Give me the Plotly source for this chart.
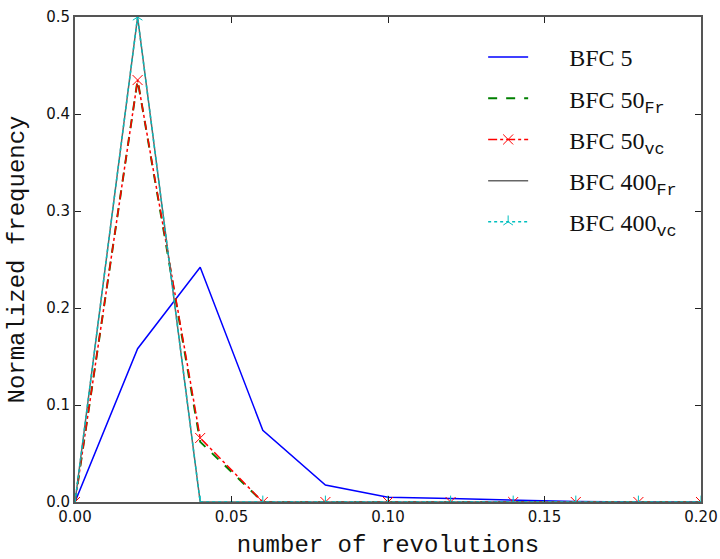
import plotly.graph_objects as go

bins = [0.00, 0.02, 0.04, 0.06, 0.08, 0.10, 0.12, 0.14, 0.16, 0.18, 0.20]
bfc5 = [0.0, 0.158, 0.242, 0.074, 0.0175, 0.005, 0.0035, 0.002, 0.0005, 0.0, 0.0]
bfc50_fr = [0.0, 0.435, 0.062, 0.0, 0.0, 0.0, 0.0, 0.0, 0.0, 0.0, 0.0]
bfc50_vc = [0.0, 0.435, 0.066, 0.0, 0.0, 0.0, 0.0, 0.0, 0.0, 0.0, 0.0]
bfc400_fr = [0.0, 0.5, 0.0, 0.0, 0.0, 0.0, 0.0, 0.0, 0.0, 0.0, 0.0]
bfc400_vc = [0.0, 0.5, 0.0, 0.0, 0.0, 0.0, 0.0, 0.0, 0.0, 0.0, 0.0]

MONO = "Liberation Mono, Courier New, monospace"
pad = "&nbsp;" * 6
names = [pad + "BFC 5",
         pad + "BFC 50<sub><span style='font-family:" + MONO + "'>Fr</span></sub>",
         pad + "BFC 50<sub><span style='font-family:" + MONO + "'>vc</span></sub>",
         pad + "BFC 400<sub><span style='font-family:" + MONO + "'>Fr</span></sub>",
         pad + "BFC 400<sub><span style='font-family:" + MONO + "'>vc</span></sub>"]

fig = go.Figure()
fig.add_trace(go.Scatter(x=bins, y=bfc5, mode="lines", name=names[0],
                         line=dict(color="#0000FF", width=1.5), legendgroup="a"))
fig.add_trace(go.Scatter(x=bins, y=bfc50_fr, mode="lines", name=names[1],
                         line=dict(color="#008000", width=2, dash="dash"), legendgroup="b"))
fig.add_trace(go.Scatter(x=bins, y=bfc50_vc, mode="lines+markers", name=names[2],
                         line=dict(color="#FF0000", width=1.5, dash="dashdot"),
                         marker=dict(symbol="x-thin", size=10, line=dict(color="#FF0000", width=1)),
                         legendgroup="c"))
fig.add_trace(go.Scatter(x=bins, y=bfc400_fr, mode="lines", name=names[3],
                         line=dict(color="#666666", width=1.5), legendgroup="d"))
fig.add_trace(go.Scatter(x=bins, y=bfc400_vc, mode="lines+markers", name=names[4],
                         line=dict(color="#00BFBF", width=1.5, dash="dot"),
                         marker=dict(symbol="y-up", size=8, line=dict(color="#00BFBF", width=1)),
                         legendgroup="e"))

axis_common = dict(showline=True, mirror="allticks", linecolor="#555555", linewidth=2,
                   ticks="inside", ticklen=6, tickcolor="#222222", tickwidth=1,
                   showgrid=False, zeroline=False, automargin=False,
                   tickfont=dict(family="DejaVu Sans", size=15, color="#111111"))

fig.update_xaxes(range=[0, 0.2], tickvals=[0, 0.05, 0.10, 0.15, 0.20],
                 ticktext=["0.00", "0.05", "0.10", "0.15", "0.20"],
                 title=dict(text="number of revolutions",
                            font=dict(family=MONO, size=24, color="#111111")),
                 **axis_common)
fig.update_yaxes(range=[0, 0.5], tickvals=[0, 0.1, 0.2, 0.3, 0.4, 0.5],
                 ticktext=["0.0", "0.1", "0.2", "0.3", "0.4", "0.5"],
                 title=dict(text="Normalized frequency",
                            font=dict(family=MONO, size=24, color="#111111")),
                 **axis_common)

fig.update_layout(
    width=720, height=559,
    margin=dict(l=75, r=19, t=17, b=57),
    plot_bgcolor="white", paper_bgcolor="white",
    legend=dict(x=0.652, y=0.963, xanchor="left", yanchor="top",
                bgcolor="rgba(255,255,255,0)", borderwidth=0,
                font=dict(family="Liberation Serif, DejaVu Serif, serif", size=24, color="#111111"),
                tracegroupgap=7, itemwidth=40),
    showlegend=True,
)

fig.write_html("out.html")
